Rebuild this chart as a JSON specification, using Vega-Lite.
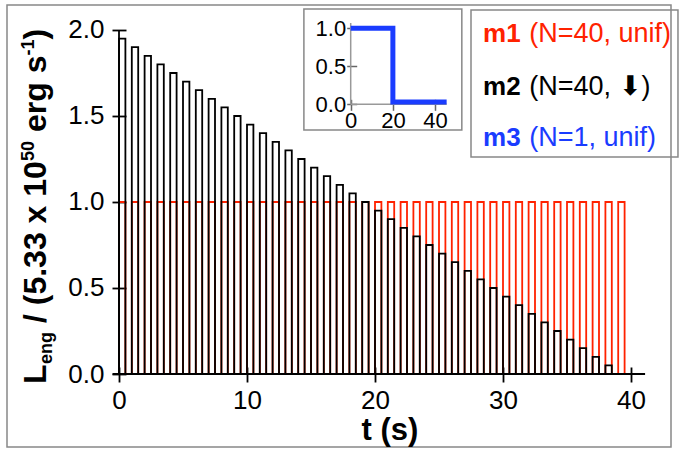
{
  "$schema": "https://vega.github.io/schema/vega-lite/v6.json",
  "width": 664,
  "height": 442,
  "autosize": "none",
  "padding": {"left": 7, "top": 5, "right": 9, "bottom": 10},
  "background": "white",
  "config": {
    "view": {"stroke": "#888888", "strokeWidth": 1.5},
    "font": "Liberation Sans",
    "axis": {"grid": false, "labelFont": "Liberation Sans", "labelColor": "black", "zindex": 1}
  },
  "datasets": {
    "m1": [
      {"t0": 0, "t1": 0.5, "L": 1}, {"t0": 1, "t1": 1.5, "L": 1}, {"t0": 2, "t1": 2.5, "L": 1}, {"t0": 3, "t1": 3.5, "L": 1},
      {"t0": 4, "t1": 4.5, "L": 1}, {"t0": 5, "t1": 5.5, "L": 1}, {"t0": 6, "t1": 6.5, "L": 1}, {"t0": 7, "t1": 7.5, "L": 1},
      {"t0": 8, "t1": 8.5, "L": 1}, {"t0": 9, "t1": 9.5, "L": 1}, {"t0": 10, "t1": 10.5, "L": 1}, {"t0": 11, "t1": 11.5, "L": 1},
      {"t0": 12, "t1": 12.5, "L": 1}, {"t0": 13, "t1": 13.5, "L": 1}, {"t0": 14, "t1": 14.5, "L": 1}, {"t0": 15, "t1": 15.5, "L": 1},
      {"t0": 16, "t1": 16.5, "L": 1}, {"t0": 17, "t1": 17.5, "L": 1}, {"t0": 18, "t1": 18.5, "L": 1}, {"t0": 19, "t1": 19.5, "L": 1},
      {"t0": 20, "t1": 20.5, "L": 1}, {"t0": 21, "t1": 21.5, "L": 1}, {"t0": 22, "t1": 22.5, "L": 1}, {"t0": 23, "t1": 23.5, "L": 1},
      {"t0": 24, "t1": 24.5, "L": 1}, {"t0": 25, "t1": 25.5, "L": 1}, {"t0": 26, "t1": 26.5, "L": 1}, {"t0": 27, "t1": 27.5, "L": 1},
      {"t0": 28, "t1": 28.5, "L": 1}, {"t0": 29, "t1": 29.5, "L": 1}, {"t0": 30, "t1": 30.5, "L": 1}, {"t0": 31, "t1": 31.5, "L": 1},
      {"t0": 32, "t1": 32.5, "L": 1}, {"t0": 33, "t1": 33.5, "L": 1}, {"t0": 34, "t1": 34.5, "L": 1}, {"t0": 35, "t1": 35.5, "L": 1},
      {"t0": 36, "t1": 36.5, "L": 1}, {"t0": 37, "t1": 37.5, "L": 1}, {"t0": 38, "t1": 38.5, "L": 1}, {"t0": 39, "t1": 39.5, "L": 1}
    ],
    "m2": [
      {"t0": 0, "t1": 0.5, "L": 1.95}, {"t0": 1, "t1": 1.5, "L": 1.90}, {"t0": 2, "t1": 2.5, "L": 1.85}, {"t0": 3, "t1": 3.5, "L": 1.80},
      {"t0": 4, "t1": 4.5, "L": 1.75}, {"t0": 5, "t1": 5.5, "L": 1.70}, {"t0": 6, "t1": 6.5, "L": 1.65}, {"t0": 7, "t1": 7.5, "L": 1.60},
      {"t0": 8, "t1": 8.5, "L": 1.55}, {"t0": 9, "t1": 9.5, "L": 1.50}, {"t0": 10, "t1": 10.5, "L": 1.45}, {"t0": 11, "t1": 11.5, "L": 1.40},
      {"t0": 12, "t1": 12.5, "L": 1.35}, {"t0": 13, "t1": 13.5, "L": 1.30}, {"t0": 14, "t1": 14.5, "L": 1.25}, {"t0": 15, "t1": 15.5, "L": 1.20},
      {"t0": 16, "t1": 16.5, "L": 1.15}, {"t0": 17, "t1": 17.5, "L": 1.10}, {"t0": 18, "t1": 18.5, "L": 1.05}, {"t0": 19, "t1": 19.5, "L": 1.00},
      {"t0": 20, "t1": 20.5, "L": 0.95}, {"t0": 21, "t1": 21.5, "L": 0.90}, {"t0": 22, "t1": 22.5, "L": 0.85}, {"t0": 23, "t1": 23.5, "L": 0.80},
      {"t0": 24, "t1": 24.5, "L": 0.75}, {"t0": 25, "t1": 25.5, "L": 0.70}, {"t0": 26, "t1": 26.5, "L": 0.65}, {"t0": 27, "t1": 27.5, "L": 0.60},
      {"t0": 28, "t1": 28.5, "L": 0.55}, {"t0": 29, "t1": 29.5, "L": 0.50}, {"t0": 30, "t1": 30.5, "L": 0.45}, {"t0": 31, "t1": 31.5, "L": 0.40},
      {"t0": 32, "t1": 32.5, "L": 0.35}, {"t0": 33, "t1": 33.5, "L": 0.30}, {"t0": 34, "t1": 34.5, "L": 0.25}, {"t0": 35, "t1": 35.5, "L": 0.20},
      {"t0": 36, "t1": 36.5, "L": 0.15}, {"t0": 37, "t1": 37.5, "L": 0.10}, {"t0": 38, "t1": 38.5, "L": 0.05}, {"t0": 39, "t1": 39.5, "L": 0.0}
    ],
    "m3": [
      {"seq": 0, "t": 0, "L": 1}, {"seq": 1, "t": 20, "L": 1}, {"seq": 2, "t": 20, "L": 0.03}, {"seq": 3, "t": 45.5, "L": 0.03}
    ],
    "one": [{}]
  },
  "layer": [
    {
      "layer": [
        {
          "data": {"name": "m1"},
          "mark": {"type": "rect", "filled": false, "stroke": "#ff2200", "strokeWidth": 1.8},
          "encoding": {
            "x": {"field": "t0", "type": "quantitative",
                  "scale": {"domain": [-8.75, 43.125], "nice": false, "zero": false},
                  "axis": {"orient": "bottom", "offset": -80, "values": [0, 10, 20, 30, 40], "format": "d",
                           "tickSize": 15, "tickWidth": 1.8, "tickColor": "black", "domain": false,
                           "labelFontSize": 26, "labelPadding": 5, "title": null}},
            "x2": {"field": "t1"},
            "y": {"field": "L", "type": "quantitative",
                  "scale": {"domain": [-0.4244, 2.1453], "nice": false, "zero": false},
                  "axis": {"orient": "left", "offset": -119, "values": [0, 0.5, 1, 1.5, 2], "format": ".1f",
                           "tickSize": 14, "tickWidth": 1.8, "tickColor": "black", "domain": false,
                           "labelFontSize": 26, "labelPadding": 8, "title": null}},
            "y2": {"datum": 0}
          }
        },
        {
          "data": {"name": "m2"},
          "mark": {"type": "rect", "filled": false, "stroke": "black", "strokeWidth": 1.8},
          "encoding": {
            "x": {"field": "t0", "type": "quantitative"},
            "x2": {"field": "t1"},
            "y": {"field": "L", "type": "quantitative"},
            "y2": {"datum": 0}
          }
        },
        {
          "data": {"name": "one"},
          "mark": {"type": "rule", "stroke": "black", "strokeWidth": 1.8},
          "encoding": {"x": {"datum": -0.5, "type": "quantitative"}, "x2": {"datum": 41.1}, "y": {"datum": 0, "type": "quantitative"}}
        },
        {
          "data": {"name": "one"},
          "mark": {"type": "rule", "stroke": "black", "strokeWidth": 1.8},
          "encoding": {"x": {"datum": 0, "type": "quantitative"}, "y": {"datum": 0, "type": "quantitative"}, "y2": {"datum": 2}}
        },
        {
          "data": {"name": "one"},
          "mark": {"type": "rect", "filled": false, "stroke": "#888888", "strokeWidth": 1.5},
          "encoding": {"x": {"datum": 27.5, "type": "quantitative"}, "x2": {"datum": 43.67}, "y": {"datum": 2.116, "type": "quantitative"}, "y2": {"datum": 1.262}}
        },
        {
          "data": {"name": "one"},
          "mark": {"type": "text", "align": "left", "baseline": "alphabetic", "fontSize": 26, "fontWeight": "bold", "color": "#ff2200"},
          "encoding": {"x": {"datum": 28.44, "type": "quantitative"}, "y": {"datum": 1.93, "type": "quantitative"}, "text": {"value": "m1"}}
        },
        {
          "data": {"name": "one"},
          "mark": {"type": "text", "align": "left", "baseline": "alphabetic", "fontSize": 27, "color": "#ff2200"},
          "encoding": {"x": {"datum": 32.05, "type": "quantitative"}, "y": {"datum": 1.93, "type": "quantitative"}, "text": {"value": "(N=40, unif)"}}
        },
        {
          "data": {"name": "one"},
          "mark": {"type": "text", "align": "left", "baseline": "alphabetic", "fontSize": 26, "fontWeight": "bold", "color": "black"},
          "encoding": {"x": {"datum": 28.44, "type": "quantitative"}, "y": {"datum": 1.622, "type": "quantitative"}, "text": {"value": "m2"}}
        },
        {
          "data": {"name": "one"},
          "mark": {"type": "text", "align": "left", "baseline": "alphabetic", "fontSize": 27, "color": "black"},
          "encoding": {"x": {"datum": 32.05, "type": "quantitative"}, "y": {"datum": 1.622, "type": "quantitative"}, "text": {"value": "(N=40, ⬇)"}}
        },
        {
          "data": {"name": "one"},
          "mark": {"type": "text", "align": "left", "baseline": "alphabetic", "fontSize": 26, "fontWeight": "bold", "color": "#1a3cff"},
          "encoding": {"x": {"datum": 28.44, "type": "quantitative"}, "y": {"datum": 1.3256, "type": "quantitative"}, "text": {"value": "m3"}}
        },
        {
          "data": {"name": "one"},
          "mark": {"type": "text", "align": "left", "baseline": "alphabetic", "fontSize": 27, "color": "#1a3cff"},
          "encoding": {"x": {"datum": 32.05, "type": "quantitative"}, "y": {"datum": 1.3256, "type": "quantitative"}, "text": {"value": "(N=1, unif)"}}
        },
        {
          "data": {"name": "one"},
          "mark": {"type": "text", "align": "left", "baseline": "alphabetic", "angle": 270, "fontSize": 32, "fontWeight": "bold", "color": "black"},
          "encoding": {"x": {"datum": -5.703, "type": "quantitative"}, "y": {"datum": -0.0581, "type": "quantitative"}, "text": {"value": "L"}}
        },
        {
          "data": {"name": "one"},
          "mark": {"type": "text", "align": "left", "baseline": "alphabetic", "angle": 270, "fontSize": 18, "fontWeight": "bold", "color": "black"},
          "encoding": {"x": {"datum": -5.234, "type": "quantitative"}, "y": {"datum": 0.0581, "type": "quantitative"}, "text": {"value": "eng"}}
        },
        {
          "data": {"name": "one"},
          "mark": {"type": "text", "align": "left", "baseline": "alphabetic", "angle": 270, "fontSize": 32, "fontWeight": "bold", "color": "black"},
          "encoding": {"x": {"datum": -5.703, "type": "quantitative"}, "y": {"datum": 0.2965, "type": "quantitative"}, "text": {"value": "/ (5.33 x 10"}}
        },
        {
          "data": {"name": "one"},
          "mark": {"type": "text", "align": "left", "baseline": "alphabetic", "angle": 270, "fontSize": 18, "fontWeight": "bold", "color": "black"},
          "encoding": {"x": {"datum": -6.64, "type": "quantitative"}, "y": {"datum": 1.2384, "type": "quantitative"}, "text": {"value": "50"}}
        },
        {
          "data": {"name": "one"},
          "mark": {"type": "text", "align": "left", "baseline": "alphabetic", "angle": 270, "fontSize": 32, "fontWeight": "bold", "color": "black"},
          "encoding": {"x": {"datum": -5.703, "type": "quantitative"}, "y": {"datum": 1.407, "type": "quantitative"}, "text": {"value": "erg s"}}
        },
        {
          "data": {"name": "one"},
          "mark": {"type": "text", "align": "left", "baseline": "alphabetic", "angle": 270, "fontSize": 18, "fontWeight": "bold", "color": "black"},
          "encoding": {"x": {"datum": -6.64, "type": "quantitative"}, "y": {"datum": 1.8517, "type": "quantitative"}, "text": {"value": "-1"}}
        },
        {
          "data": {"name": "one"},
          "mark": {"type": "text", "align": "left", "baseline": "alphabetic", "angle": 270, "fontSize": 32, "fontWeight": "bold", "color": "black"},
          "encoding": {"x": {"datum": -5.703, "type": "quantitative"}, "y": {"datum": 1.9448, "type": "quantitative"}, "text": {"value": ")"}}
        },
        {
          "data": {"name": "one"},
          "mark": {"type": "text", "align": "center", "baseline": "alphabetic", "fontSize": 31, "fontWeight": "bold", "color": "black"},
          "encoding": {"x": {"datum": 21.17, "type": "quantitative"}, "y": {"datum": -0.384, "type": "quantitative"}, "text": {"value": "t (s)"}}
        }
      ]
    },
    {
      "layer": [
        {
          "data": {"name": "one"},
          "mark": {"type": "rect", "filled": false, "stroke": "#888888", "strokeWidth": 1.5},
          "encoding": {
            "x": {"datum": -22.2, "type": "quantitative",
                  "scale": {"domain": [-163.0, 151.9], "nice": false, "zero": false},
                  "axis": {"orient": "bottom", "offset": -347.7, "values": [0, 20, 40], "format": "d",
                           "tickSize": 11, "tickWidth": 1.5, "tickColor": "#666666", "domain": false,
                           "labelFontSize": 22, "labelPadding": 0, "title": null}},
            "x2": {"datum": 52.7},
            "y": {"datum": 1.254, "type": "quantitative",
                  "scale": {"domain": [-4.509, 1.3066], "nice": false, "zero": false},
                  "axis": {"orient": "left", "offset": -349.7, "values": [0, 0.5, 1], "format": ".1f",
                           "tickSize": 10, "tickWidth": 1.5, "tickColor": "#666666", "domain": false,
                           "labelFontSize": 22, "labelPadding": 1, "title": null}},
            "y2": {"datum": -0.338}
          }
        },
        {
          "data": {"name": "one"},
          "mark": {"type": "rule", "stroke": "#999999", "strokeWidth": 1.5},
          "encoding": {"x": {"datum": 0, "type": "quantitative"}, "x2": {"datum": 45.5}, "y": {"datum": 0, "type": "quantitative"}}
        },
        {
          "data": {"name": "one"},
          "mark": {"type": "rule", "stroke": "#999999", "strokeWidth": 1.5},
          "encoding": {"x": {"datum": 0, "type": "quantitative"}, "y": {"datum": 0, "type": "quantitative"}, "y2": {"datum": 1.07}}
        },
        {
          "data": {"name": "m3"},
          "mark": {"type": "line", "stroke": "#1a3cff", "strokeWidth": 5, "strokeJoin": "miter", "strokeCap": "butt"},
          "encoding": {
            "x": {"field": "t", "type": "quantitative"},
            "y": {"field": "L", "type": "quantitative"},
            "order": {"field": "seq"}
          }
        }
      ]
    }
  ],
  "resolve": {"scale": {"x": "independent", "y": "independent"}}
}
